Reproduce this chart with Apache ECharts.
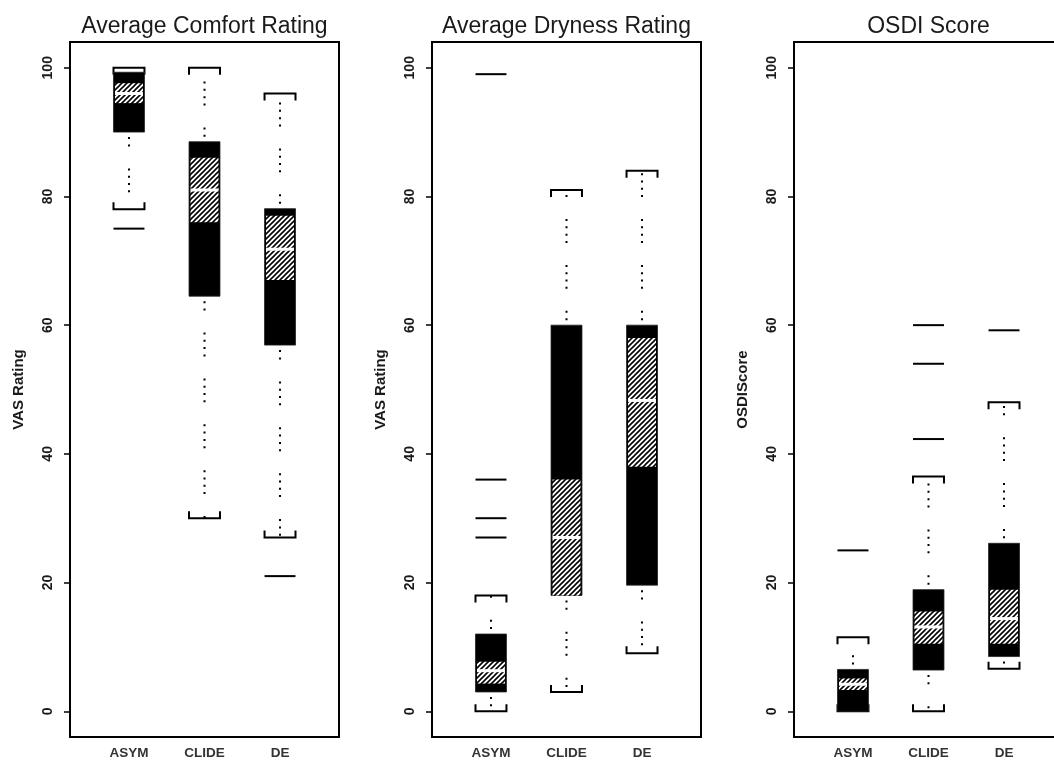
<!DOCTYPE html>
<html>
<head>
<meta charset="utf-8">
<script src="https://cdn.jsdelivr.net/npm/echarts@6/dist/echarts.min.js"></script>
<style>
html,body{margin:0;padding:0;background:#fff;overflow:hidden;width:1054px;height:760px;}
#c{width:1075px;height:760px;}
</style>
</head>
<body>
<div id="c"></div>
<script>
// ---- data ----
const categories = ['ASYM', 'CLIDE', 'DE'];
const yTicks = [0, 20, 40, 60, 80, 100];
const panelTitles = ['Average Comfort Rating', 'Average Dryness Rating', 'OSDI Score'];
const axisNames = ['VAS Rating', 'VAS Rating', 'OSDIScore'];

// [lower whisker, Q1, notch low, median, notch high, Q3, upper whisker]
const comfortBoxes = [
  [78, 90, 94.5, 96.0, 97.6, 99.3, 100],
  [30, 64.5, 76, 81, 86, 88.5, 100],
  [27, 56.9, 67, 71.8, 77, 78.1, 96]
];
const comfortOutliers = [[75], [], [21]];

const drynessBoxes = [
  [0, 3, 4.3, 6.3, 7.7, 12, 18],
  [3, 18, 18, 27, 36, 60, 81],
  [9, 19.6, 38, 48.3, 58, 60, 84]
];
const drynessOutliers = [[99, 36, 30, 27], [], []];

const osdiBoxes = [
  [0, 0, 3.3, 4.2, 5.1, 6.5, 11.5],
  [0, 6.4, 10.5, 13.1, 15.5, 18.9, 36.5],
  [6.6, 8.5, 10.5, 14.4, 18.9, 26.1, 48]
];
const osdiOutliers = [[25], [60, 54, 42.3], [59.2]];

const panelBoxes = [comfortBoxes, drynessBoxes, osdiBoxes];
const panelOutliers = [comfortOutliers, drynessOutliers, osdiOutliers];

// ---- hatch pattern ----
const s = 5;
const hatch = document.createElement('canvas');
hatch.width = s; hatch.height = s;
const hc = hatch.getContext('2d');
hc.fillStyle = '#fff'; hc.fillRect(0, 0, s, s);
hc.strokeStyle = '#000'; hc.lineWidth = 1.6;
hc.beginPath();
hc.moveTo(-1, 1); hc.lineTo(1, -1);
hc.moveTo(0, s); hc.lineTo(s, 0);
hc.moveTo(s - 1, s + 1); hc.lineTo(s + 1, s - 1);
hc.stroke();

const BOXW = 0.41;
const dotDash = [2, 5.3, 2, 5.3, 2, 5.3, 2, 22];
const textColor = '#1a1a1a';
const font = 'Liberation Sans, Arial, sans-serif';

function renderBox(params, api) {
  const x = api.value(0);
  const v = [1,2,3,4,5,6,7].map(i => api.value(i));
  const [lo, q1, nlo, med, nhi, q3, hi] = v;
  const hw = api.size([BOXW, 0])[0] / 2;
  const P = val => api.coord([x, val]);
  const cx = P(0)[0];
  const y = val => P(val)[1];
  const leg = 7;
  const children = [];
  if (hi > q3) children.push({type:'line', shape:{x1:cx, y1:y(q3), x2:cx, y2:y(hi)},
    style:{stroke:'#000', lineWidth:2, lineDash:dotDash, lineDashOffset:9.6, lineCap:'butt'}});
  if (lo < q1) children.push({type:'line', shape:{x1:cx, y1:y(q1), x2:cx, y2:y(lo)},
    style:{stroke:'#000', lineWidth:2, lineDash:dotDash, lineDashOffset:9.6, lineCap:'butt'}});
  children.push({type:'polyline', shape:{points:[[cx-hw, y(hi)+leg],[cx-hw, y(hi)],[cx+hw, y(hi)],[cx+hw, y(hi)+leg]]},
    style:{stroke:'#000', lineWidth:2, fill:null}});
  children.push({type:'polyline', shape:{points:[[cx-hw, y(lo)-leg],[cx-hw, y(lo)],[cx+hw, y(lo)],[cx+hw, y(lo)-leg]]},
    style:{stroke:'#000', lineWidth:2, fill:null}});
  children.push({type:'rect', shape:{x:cx-hw, y:y(q3), width:2*hw, height:y(q1)-y(q3)},
    style:{fill:'#000', stroke:'#222', lineWidth:0.8}});
  children.push({type:'rect', shape:{x:cx-hw+1.5, y:y(nhi), width:2*hw-3, height:y(nlo)-y(nhi)},
    style:{fill:{image:hatch, repeat:'repeat'}}});
  children.push({type:'line', shape:{x1:cx-hw+1.5, y1:y(med), x2:cx+hw-1.5, y2:y(med)},
    style:{stroke:'#fff', lineWidth:3}});
  return {type:'group', children};
}

function renderOutlier(params, api) {
  const x = api.value(0), val = api.value(1);
  const hw = api.size([BOXW, 0])[0] / 2;
  const p = api.coord([x, val]);
  return {type:'line', shape:{x1:p[0]-hw, y1:p[1], x2:p[0]+hw, y2:p[1]},
    style:{stroke:'#000', lineWidth:2}};
}

const lefts = [70, 432, 794];
const W = 269, TOP = 42, H = 695;

const option = {
  animation: false,
  backgroundColor: '#fff',
  title: panelTitles.map((t, i) => ({
    text: t, left: lefts[i] + W / 2, top: 15, textAlign: 'center', padding: 0,
    textStyle: {fontFamily: font, fontSize: 23, fontWeight: 'normal', color: textColor}
  })),
  grid: lefts.map(l => ({left: l, top: TOP, width: W, height: H, show: true,
    borderColor: '#000', borderWidth: 2, backgroundColor: 'transparent', containLabel: false})),
  xAxis: lefts.map((l, i) => ({
    type: 'value', gridIndex: i, min: 0.219, max: 3.781,
    axisLine: {show: false}, axisTick: {show: false}, splitLine: {show: false},
    axisLabel: {customValues: [1, 2, 3], formatter: v => categories[Math.round(v) - 1] || '',
      fontFamily: font, fontSize: 13.5, fontWeight: 'bold', color: '#333', margin: 9}
  })),
  yAxis: lefts.map((l, i) => ({
    type: 'value', gridIndex: i, min: -4, max: 104,
    name: axisNames[i], nameLocation: 'middle', nameRotate: 90, nameGap: 44,
    nameTextStyle: {fontFamily: font, fontSize: 15, fontWeight: 'bold', color: textColor},
    axisLine: {show: false}, splitLine: {show: false},
    axisTick: {show: true, inside: false, length: 6, customValues: yTicks, lineStyle: {color: '#000', width: 1.5}},
    axisLabel: {customValues: yTicks, rotate: 90, margin: 15,
      fontFamily: font, fontSize: 14, fontWeight: 'bold', color: textColor}
  })),
  series: []
};

panelBoxes.forEach((boxes, i) => {
  option.series.push({
    type: 'custom', xAxisIndex: i, yAxisIndex: i, renderItem: renderBox,
    encode: {x: 0, y: [1, 2, 3, 4, 5, 6, 7]},
    data: boxes.map((b, k) => [k + 1].concat(b))
  });
  const outs = [];
  panelOutliers[i].forEach((arr, k) => arr.forEach(v => outs.push([k + 1, v])));
  option.series.push({
    type: 'custom', xAxisIndex: i, yAxisIndex: i, renderItem: renderOutlier,
    encode: {x: 0, y: 1}, data: outs
  });
});

const chart = echarts.init(document.getElementById('c'), null, {renderer: 'canvas'});
chart.setOption(option);
</script>
</body>
</html>
